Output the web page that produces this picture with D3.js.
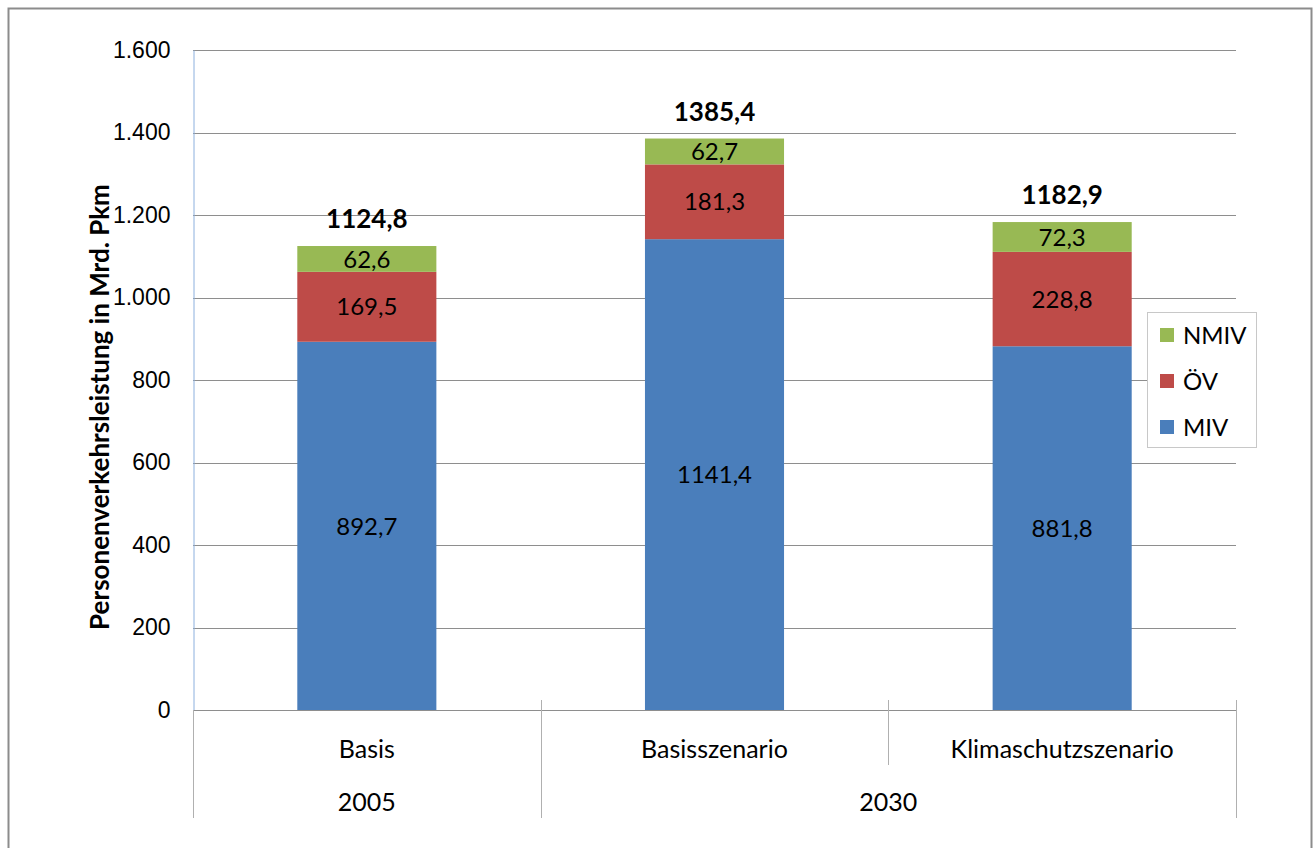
<!DOCTYPE html>
<html>
<head>
<meta charset="utf-8">
<script src="https://cdn.jsdelivr.net/npm/d3@7"></script>
<style>
  body { margin: 0; background: #fff; }
  svg { display: block; font-family: Lato, "Open Sans", sans-serif; }
</style>
</head>
<body>
<svg width="1315" height="848"></svg>
<script>
var categories = ["Basis", "Basisszenario", "Klimaschutzszenario"];
var years = [
  { label: "2005", from: 0, to: 0 },
  { label: "2030", from: 1, to: 2 }
];
var seriesNames = ["MIV", "ÖV", "NMIV"];
var miv = [892.7, 1141.4, 881.8];
var oev = [169.5, 181.3, 228.8];
var nmiv = [62.6, 62.7, 72.3];
var yTicks = [0, 200, 400, 600, 800, 1000, 1200, 1400, 1600];
var colors = ["#4a7ebb", "#be4b48", "#98b954"];

var svg = d3.select("svg");
var plotLeft = 193, plotRight = 1236, plotTop = 50, plotBottom = 710;
var fs = 24;

var de = d3.formatLocale({ decimal: ",", thousands: ".", grouping: [3], currency: ["", "€"] });
var tickFmt = de.format(",d");
var valFmt = de.format(".1f");

var rows = categories.map(function(c, i) {
  return { cat: c, MIV: miv[i], "ÖV": oev[i], NMIV: nmiv[i] };
});
var stacked = d3.stack().keys(seriesNames)(rows);

var x = d3.scaleBand().domain(categories).range([plotLeft, plotRight]).paddingInner(0).paddingOuter(0);
var y = d3.scaleLinear().domain([0, 1600]).range([plotBottom, plotTop]);
var barW = x.bandwidth() * 0.4;

// outer frame
svg.append("path")
  .attr("d", "M8.5,860 V8.5 H1311.5 V860")
  .attr("fill", "none").attr("stroke", "#8c8c8c").attr("stroke-width", 2);

// gridlines
svg.append("g").selectAll("line").data(yTicks.filter(function(d) { return d > 0; }))
  .join("line")
  .attr("x1", plotLeft).attr("x2", plotRight)
  .attr("y1", function(d) { return Math.round(y(d)) + 0.5; })
  .attr("y2", function(d) { return Math.round(y(d)) + 0.5; })
  .attr("stroke", "#8e8e8e").attr("stroke-width", 1);

// y axis
var yAxis = d3.axisLeft(y).tickValues(yTicks).tickFormat(tickFmt).tickSize(0).tickPadding(23);
var gy = svg.append("g").attr("transform", "translate(" + (plotLeft + 0.5) + ",0)").call(yAxis);
gy.select(".domain").attr("stroke", "#8cb0de");
gy.selectAll("text").attr("font-size", 23).attr("fill", "#000");

// bars
var layer = svg.append("g").selectAll("g").data(stacked).join("g")
  .attr("fill", function(d, i) { return colors[i]; });
layer.selectAll("rect").data(function(d) { return d; }).join("rect")
  .attr("x", function(d) { return x(d.data.cat) + (x.bandwidth() - barW) / 2; })
  .attr("width", barW)
  .attr("y", function(d) { return y(d[1]); })
  .attr("height", function(d) { return y(d[0]) - y(d[1]); });

// segment labels
layer.selectAll("text").data(function(d) { return d; }).join("text")
  .attr("x", function(d) { return x(d.data.cat) + x.bandwidth() / 2; })
  .attr("y", function(d) { return (y(d[0]) + y(d[1])) / 2; })
  .attr("dy", "0.36em")
  .attr("text-anchor", "middle")
  .attr("font-size", fs).attr("fill", "#000")
  .text(function(d) { return valFmt(d[1] - d[0]); });

// totals
var totals = categories.map(function(c, i) { return miv[i] + oev[i] + nmiv[i]; });
svg.append("g").selectAll("text").data(categories).join("text")
  .attr("x", function(d) { return x(d) + x.bandwidth() / 2; })
  .attr("y", function(d, i) { return y(totals[i]) - 18; })
  .attr("text-anchor", "middle")
  .attr("font-size", 26).attr("font-weight", "bold").attr("fill", "#000")
  .text(function(d, i) { return valFmt(totals[i]); });

// x axis baseline
svg.append("line")
  .attr("x1", plotLeft).attr("x2", plotRight)
  .attr("y1", plotBottom + 0.5).attr("y2", plotBottom + 0.5)
  .attr("stroke", "#8e8e8e");
svg.append("line")
  .attr("x1", plotLeft + 0.5).attr("x2", plotLeft + 0.5)
  .attr("y1", plotBottom).attr("y2", 818)
  .attr("stroke", "#b0b0b0");

// category separators
categories.forEach(function(c, i) {
  if (i === 0) return;
  var isGroupEdge = years.some(function(g) { return g.from === i; });
  svg.append("line")
    .attr("x1", Math.round(x(c)) + 0.5).attr("x2", Math.round(x(c)) + 0.5)
    .attr("y1", 700).attr("y2", isGroupEdge ? 818 : 765)
    .attr("stroke", "#b0b0b0");
});
svg.append("line")
  .attr("x1", plotRight + 0.5).attr("x2", plotRight + 0.5)
  .attr("y1", 700).attr("y2", 818)
  .attr("stroke", "#b0b0b0");

// category labels
svg.append("g").selectAll("text").data(categories).join("text")
  .attr("x", function(d) { return x(d) + x.bandwidth() / 2; })
  .attr("y", 749).attr("dy", "0.36em")
  .attr("text-anchor", "middle")
  .attr("font-size", 25).attr("fill", "#000")
  .text(function(d) { return d; });

// year labels
svg.append("g").selectAll("text").data(years).join("text")
  .attr("x", function(d) {
    return (x(categories[d.from]) + x(categories[d.to]) + x.bandwidth()) / 2;
  })
  .attr("y", 802).attr("dy", "0.36em")
  .attr("text-anchor", "middle")
  .attr("font-size", 25).attr("fill", "#000")
  .text(function(d) { return d.label; });

// y axis title
svg.append("text")
  .attr("transform", "translate(109,407) rotate(-90)")
  .attr("text-anchor", "middle")
  .attr("font-size", 26).attr("font-weight", "bold").attr("fill", "#000")
  .text("Personenverkehrsleistung in Mrd. Pkm");

// legend
var legend = svg.append("g").attr("transform", "translate(1147,312)");
legend.append("rect")
  .attr("x", 0.5).attr("y", 0.5).attr("width", 109).attr("height", 135)
  .attr("fill", "#fff").attr("stroke", "#c8c8c8");
var legendOrder = seriesNames.slice().reverse();
var li = legend.selectAll("g.item").data(legendOrder).join("g")
  .attr("class", "item")
  .attr("transform", function(d, i) { return "translate(13," + (23 + i * 46) + ")"; });
li.append("rect")
  .attr("x", 0).attr("y", -7).attr("width", 14).attr("height", 14)
  .attr("fill", function(d) { return colors[seriesNames.indexOf(d)]; });
li.append("text")
  .attr("x", 23).attr("dy", "0.36em")
  .attr("font-size", fs).attr("fill", "#000")
  .text(function(d) { return d; });
</script>
</body>
</html>
